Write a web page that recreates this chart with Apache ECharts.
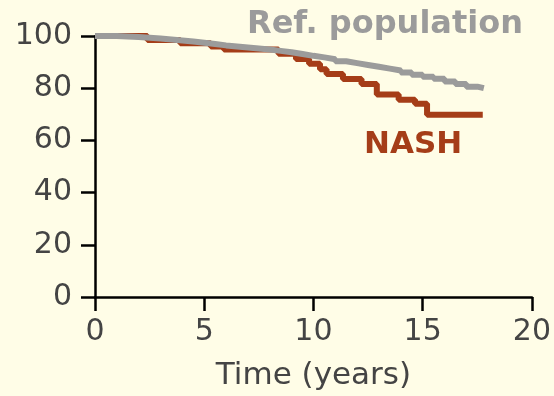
<!DOCTYPE html>
<html>
<head>
<meta charset="utf-8">
<script src="https://cdn.jsdelivr.net/npm/echarts@6/dist/echarts.min.js"></script>
<style>
  html, body { margin: 0; padding: 0; background: #fffde7; }
  #chart-survival { width: 554px; height: 396px; }
</style>
</head>
<body>
<div id="chart-survival"></div>
<script>
  // Ref. population
  var refTime = [0, 0.5, 1, 1.5, 2, 2.5, 3, 3.5, 4, 4.5, 5, 5.5, 6, 6.5, 7, 7.5, 8, 8.5, 9, 9.5,
    10, 10.5, 11, 11.5, 12, 12.5, 13, 13.5, 14, 14.5, 15, 15.5, 16, 16.5, 17, 17.5, 17.8]
  var refSurv = [100, 100, 99.8, 99.6, 99.3, 99.0, 98.7, 98.3, 97.9, 97.4, 96.9, 96.4, 96.0, 95.6, 95.2, 94.8, 94.3, 93.8, 93.1, 92.4,
    91.8, 91.1, 90.3, 89.6, 88.9, 88.2, 87.5, 86.8, 86.0, 85.2, 84.4, 83.6, 82.6, 81.6, 80.6, 80.0, 80.0]

  // NASH
  var nashTime = [0, 2.4, 3.9, 5.3, 5.9, 8.4, 9.2, 9.8, 10.3, 10.6, 11.35, 12.2, 12.9, 13.9, 14.65, 15.2, 17.75]
  var nashSurv = [100, 98.5, 97.2, 96, 94.8, 93.2, 91.2, 89.4, 87.3, 85.4, 83.5, 81.6, 77.6, 75.6, 74, 69.8, 69.8]

  var xTicks = [0, 5, 10, 15, 20]
  var yTicks = [0, 20, 40, 60, 80, 100]

  var fontName = 'DejaVu Sans'
  var textColor = '#444444'

  function pairs(xs, ys){
    return xs.map(function(x, i){ return [x, ys[i]] })
  }

  var myChart = echarts.init(document.getElementById('chart-survival'))
  var chartOption = {
    backgroundColor: '#fffde7',
    animation: false,
    grid: {
      left: 95,
      right: 22,
      top: 36,
      bottom: 96
    },
    xAxis: {
      type: 'value',
      min: xTicks[0],
      max: xTicks[xTicks.length - 1],
      interval: 5,
      name: 'Time (years)',
      nameLocation: 'middle',
      nameGap: 63,
      nameTextStyle: { color: textColor, fontSize: 31, fontFamily: fontName },
      splitLine: { show: false },
      axisLine: { lineStyle: { color: '#000', width: 2.5 } },
      axisTick: { length: 14, lineStyle: { color: '#000', width: 2.5 } },
      axisLabel: { color: textColor, fontSize: 30, fontFamily: fontName, margin: 20 }
    },
    yAxis: {
      type: 'value',
      min: yTicks[0],
      max: yTicks[yTicks.length - 1],
      interval: 20,
      splitLine: { show: false },
      axisLine: { show: true, lineStyle: { color: '#000', width: 2.5 } },
      axisTick: { show: true, length: 14, lineStyle: { color: '#000', width: 2.5 } },
      axisLabel: { color: textColor, fontSize: 30, fontFamily: fontName, margin: 23 }
    },
    graphic: [
      {
        type: 'text',
        left: 247,
        top: 9,
        style: { text: 'Ref. population', fill: '#9b9b9b', font: 'bold 32px "DejaVu Sans"' }
      },
      {
        type: 'text',
        left: 364,
        top: 129,
        style: { text: 'NASH', fill: '#a53d18', font: 'bold 31px "DejaVu Sans"' }
      }
    ],
    series: [
      {
        name: 'NASH',
        type: 'line',
        step: 'end',
        showSymbol: false,
        clip: false,
        lineStyle: { color: '#a53d18', width: 6 },
        data: pairs(nashTime, nashSurv)
      },
      {
        name: 'Ref. population',
        type: 'line',
        step: 'end',
        showSymbol: false,
        clip: false,
        lineStyle: { color: '#9b9b9b', width: 6 },
        data: pairs(refTime, refSurv)
      }
    ]
  }
  myChart.setOption(chartOption)
</script>
</body>
</html>
